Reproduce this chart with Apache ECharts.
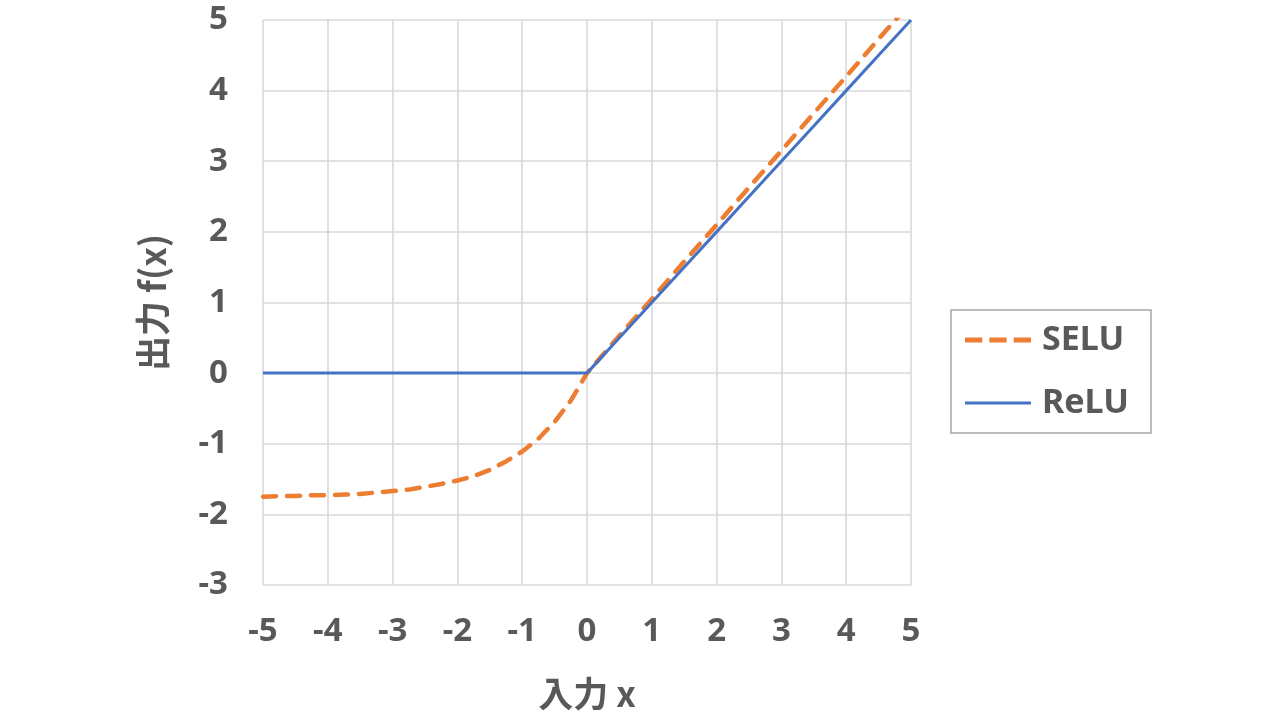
<!DOCTYPE html>
<html>
<head>
<meta charset="utf-8">
<script src="https://cdn.jsdelivr.net/npm/echarts@6/dist/echarts.min.js"></script>
<style>html,body{margin:0;padding:0;background:#fff;}#c{width:1284px;height:716px;}</style>
</head>
<body>
<div id="c"></div>
<script>
var xValues = [-5,-4.75,-4.5,-4.25,-4,-3.75,-3.5,-3.25,-3,-2.75,-2.5,-2.25,-2,-1.75,-1.5,-1.25,-1,-0.75,-0.5,-0.25,0,0.5,1,1.5,2,2.5,3,3.5,4,4.5,5];
var seluValues = [-1.75,-1.74,-1.74,-1.73,-1.73,-1.72,-1.71,-1.69,-1.67,-1.65,-1.61,-1.57,-1.52,-1.46,-1.37,-1.25,-1.11,-0.93,-0.69,-0.39,0,0.53,1.05,1.58,2.10,2.63,3.15,3.68,4.20,4.73,5.25];
var reluValues = [0,0,0,0,0,0,0,0,0,0,0,0,0,0,0,0,0,0,0,0,0,0.5,1,1.5,2,2.5,3,3.5,4,4.5,5];
var seriesNames = ['SELU','ReLU'];
var xAxisName = '入力 x';
var yAxisName = '出力 f(x)';

function pairs(ys){ return xValues.map(function(x,i){ return [x, ys[i]]; }); }

var latin = '"Noto Sans", "Noto Sans CJK JP", sans-serif';
var cjk = '"Noto Sans CJK JP", "Noto Sans", sans-serif';
var chart = echarts.init(document.getElementById('c'));
chart.setOption({
  animation: false,
  backgroundColor: '#fff',
  textStyle: { fontFamily: latin },
  grid: { left: 263, right: 373, top: 20, bottom: 128 },
  legend: {
    orient: 'vertical',
    left: 951, top: 310,
    padding: [13, 22, 13, 14],
    itemWidth: 66, itemHeight: 14,
    itemGap: 29,
    borderColor: '#a6a6a6', borderWidth: 1.5,
    textStyle: { fontSize: 34, fontWeight: 'bold', color: '#595959', fontFamily: latin, padding: [0, 0, 0, 6], lineHeight: 34 },
    data: [
      { name: seriesNames[0], icon: 'path://M0,4.6 L17,4.6 L17,9.4 L0,9.4 Z M24,4.6 L41,4.6 L41,9.4 L24,9.4 Z M48,4.6 L65,4.6 L65,9.4 L48,9.4 Z' },
      { name: seriesNames[1], icon: 'path://M0,5.5 L66,5.5 L66,8.5 L0,8.5 Z' }
    ]
  },
  xAxis: {
    type: 'value', min: -5, max: 5, interval: 1,
    name: xAxisName, nameLocation: 'middle', nameGap: 91,
    nameTextStyle: { fontSize: 35, fontWeight: 'bold', color: '#595959', fontFamily: cjk },
    axisLine: { show: false }, axisTick: { show: false },
    axisLabel: { fontSize: 33, fontWeight: 'bold', color: '#595959', margin: 30, fontFamily: latin },
    splitLine: { show: true, lineStyle: { color: '#d9d9d9', width: 1.6 } }
  },
  yAxis: {
    type: 'value', min: -3, max: 5, interval: 1,
    name: yAxisName, nameLocation: 'middle', nameGap: 93, nameRotate: 90,
    nameTextStyle: { fontSize: 35, fontWeight: 'bold', color: '#595959', fontFamily: cjk },
    axisLine: { show: false }, axisTick: { show: false },
    axisLabel: { fontSize: 33, fontWeight: 'bold', color: '#595959', margin: 35, fontFamily: latin },
    splitLine: { show: true, lineStyle: { color: '#d9d9d9', width: 1.6 } }
  },
  series: [
    { name: seriesNames[0], type: 'line', data: pairs(seluValues), showSymbol: false, smooth: false, clip: true,
      itemStyle: { color: '#ED7D31' },
      lineStyle: { color: '#ED7D31', width: 4.5, type: [13, 11], cap: 'round' }, z: 3 },
    { name: seriesNames[1], type: 'line', data: pairs(reluValues), showSymbol: false, clip: true,
      itemStyle: { color: '#4472C4' },
      lineStyle: { color: '#4472C4', width: 3 }, z: 4 }
  ]
});
</script>
</body>
</html>
